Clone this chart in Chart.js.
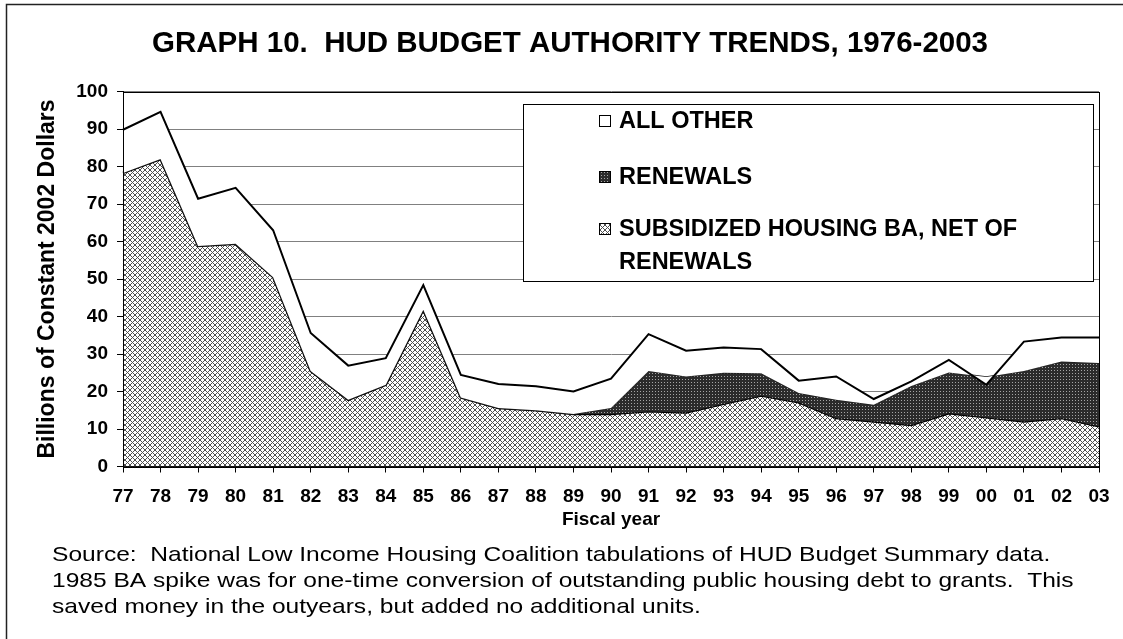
<!DOCTYPE html>
<html>
<head>
<meta charset="utf-8">
<title>HUD Budget Authority Trends</title>
<script src="https://cdn.jsdelivr.net/npm/chart.js@4.4.1/dist/chart.umd.min.js"></script>
<style>
  html, body { margin: 0; padding: 0; background: #fff; }
  #wrap { width: 1123px; height: 639px; }
</style>
</head>
<body>
<div id="wrap"><canvas id="hud" width="1123" height="639"></canvas></div>
<script>
// Fiscal years 1977-2003, billions of constant 2002 dollars
const years = ["77", "78", "79", "80", "81", "82", "83", "84", "85", "86", "87", "88", "89",
  "90", "91", "92", "93", "94", "95", "96", "97", "98", "99", "00", "01", "02", "03"];

const subsidizedNet = [78.3, 82.0, 58.8, 59.4, 50.5, 25.5, 17.8, 21.8, 41.8, 18.4, 15.6, 15.0, 14.0,
  14.0, 14.7, 14.4, 16.7, 18.9, 17.1, 12.9, 12.0, 11.1, 14.2, 13.1, 12.0, 12.9, 10.7];

const renewals = [0, 0, 0, 0, 0, 0, 0, 0, 0, 0, 0, 0, 0,
  1.6, 10.8, 9.6, 8.3, 6.0, 2.5, 4.9, 4.5, 10.4, 10.9, 10.8, 13.5, 15.1, 16.9];

const allOther = [11.5, 12.6, 12.6, 14.9, 12.5, 10.1, 9.1, 7.1, 6.6, 6.0, 6.4, 6.4, 6.0,
  7.8, 9.8, 6.9, 6.7, 6.4, 3.3, 6.2, 1.5, 1.2, 3.3, -2.1, 7.8, 6.4, 6.8];

const seriesLabels = ["ALL OTHER", "RENEWALS", "SUBSIDIZED HOUSING BA, NET OF RENEWALS"];

const sourceLines = [
  "Source:  National Low Income Housing Coalition tabulations of HUD Budget Summary data.",
  "1985 BA spike was for one-time conversion of outstanding public housing debt to grants.  This",
  "saved money in the outyears, but added no additional units."
];

// cumulative tops of the stacked areas
const renewalsTop = subsidizedNet.map((v, i) => +(v + renewals[i]).toFixed(1));
const totalBA = renewalsTop.map((v, i) => +(v + allOther[i]).toFixed(1));

const FONT = "Arial, 'Liberation Sans', sans-serif";
Chart.defaults.font.family = FONT;
Chart.defaults.color = "#000";

// small pixel tiles for the Excel-style fills
function pixelPattern(size, isDark, dark, light) {
  const c = document.createElement("canvas");
  c.width = c.height = size;
  const g = c.getContext("2d");
  const img = g.createImageData(size, size);
  for (let y = 0; y < size; y++) {
    for (let x = 0; x < size; x++) {
      const col = isDark(x, y) ? dark : light;
      const k = (y * size + x) * 4;
      img.data[k] = col[0]; img.data[k + 1] = col[1]; img.data[k + 2] = col[2]; img.data[k + 3] = 255;
    }
  }
  g.putImageData(img, 0, 0);
  return g.createPattern(c, "repeat");
}

const hatch = pixelPattern(5, (x, y) => x === y || x + y === 4, [80, 80, 80], [255, 255, 255]);
const dots = pixelPattern(3, (x, y) => !(x === 1 && y === 1), [43, 43, 43], [165, 165, 165]);

const frameBox = {
  id: "frameBox",
  beforeDraw(chart) {
    const { ctx } = chart;
    ctx.save();
    ctx.fillStyle = "#fff";
    ctx.fillRect(0, 0, chart.width, chart.height);
    ctx.strokeStyle = "#222";
    ctx.lineWidth = 1.5;
    ctx.strokeRect(6.5, 4.5, chart.width + 40, chart.height + 40);
    ctx.restore();
  },
  afterDatasetsDraw(chart) {
    const { ctx, chartArea: a } = chart;
    ctx.save();
    ctx.strokeStyle = "#000";
    ctx.lineWidth = 1;
    ctx.strokeRect(Math.round(a.left) + 0.5, Math.round(a.top) + 0.5,
      Math.round(a.right - a.left), Math.round(a.bottom - a.top));
    ctx.restore();
  }
};

// boxed legend sitting inside the plot
const boxLegend = {
  id: "boxLegend",
  afterDraw(chart) {
    const { ctx } = chart;
    const bx = 523.5, by = 104.5, bw = 570, bh = 177;
    ctx.save();
    ctx.fillStyle = "#fff";
    ctx.fillRect(bx, by, bw, bh);
    ctx.strokeStyle = "#000";
    ctx.lineWidth = 1;
    ctx.strokeRect(bx, by, bw, bh);
    ctx.font = "bold 23.5px " + FONT;
    ctx.textBaseline = "middle";
    const rows = [121, 177, 229];
    chart.data.datasets.forEach((ds, i) => {
      const cy = rows[i];
      ctx.fillStyle = ds.backgroundColor;
      ctx.fillRect(599, cy - 6, 11, 11);
      ctx.strokeStyle = "#000";
      ctx.strokeRect(599.5, cy - 5.5, 11, 11);
      ctx.fillStyle = "#000";
      // wrap long labels
      const words = ds.label.split(" ");
      let line = "", y = cy + 1;
      words.forEach(w => {
        const t = line ? line + " " + w : w;
        if (ctx.measureText(t).width > 430 && line) {
          ctx.fillText(line, 619, y);
          line = w;
          y += 33;
        } else {
          line = t;
        }
      });
      ctx.fillText(line, 619, y);
    });
    ctx.restore();
  }
};

// source note under the axis, set a little wide
const sourceNote = {
  id: "sourceNote",
  afterDraw(chart) {
    const { ctx } = chart;
    ctx.save();
    ctx.font = "21px " + FONT;
    ctx.fillStyle = "#000";
    ctx.textBaseline = "alphabetic";
    ctx.translate(52, 0);
    ctx.scale(1.17, 1);
    sourceLines.forEach((t, i) => ctx.fillText(t, 0, 561 + i * 26));
    ctx.restore();
  }
};

new Chart(document.getElementById("hud"), {
  type: "line",
  data: {
    labels: years,
    datasets: [
      { label: seriesLabels[0], data: totalBA, fill: 1, backgroundColor: "#fff",
        borderColor: "#000", borderWidth: 2 },
      { label: seriesLabels[1], data: renewalsTop, fill: 2, backgroundColor: dots,
        borderColor: "#1e1e1e", borderWidth: 1.5 },
      { label: seriesLabels[2], data: subsidizedNet, fill: "origin", backgroundColor: hatch,
        borderColor: "#000", borderWidth: 2.5 }
    ]
  },
  options: {
    responsive: false,
    animation: false,
    events: [],
    elements: { point: { radius: 0 }, line: { tension: 0, borderJoinStyle: "miter" } },
    layout: { padding: { left: 41, right: 24, top: 0, bottom: 102.5 } },
    plugins: {
      legend: { display: false },
      tooltip: { enabled: false },
      title: {
        display: true,
        text: "GRAPH 10.  HUD BUDGET AUTHORITY TRENDS, 1976-2003",
        font: { size: 29.5, weight: "bold" },
        color: "#000",
        padding: { top: 26.3, bottom: 29.8 }
      }
    },
    scales: {
      x: {
        grid: { drawOnChartArea: false, tickLength: 6, tickColor: "#000" },
        border: { display: true, color: "#000" },
        ticks: { font: { size: 19, weight: "bold" }, padding: 13, maxRotation: 0, autoSkip: false },
        title: { display: true, text: "Fiscal year", font: { size: 19, weight: "bold" }, padding: { top: 0, bottom: 5 } },
        afterFit: s => { s.height = 70; }
      },
      y: {
        min: 0, max: 100,
        grid: { color: "#808080", tickLength: 6, tickColor: "#000" },
        border: { display: true, color: "#000" },
        ticks: { stepSize: 10, font: { size: 19, weight: "bold" }, padding: 9 },
        title: { display: true, text: "Billions of Constant 2002 Dollars", font: { size: 23, weight: "bold" },
          padding: { top: -6.8, bottom: 0 } },
        afterFit: s => { s.width = 82; }
      }
    }
  },
  plugins: [frameBox, boxLegend, sourceNote]
});
</script>
</body>
</html>
